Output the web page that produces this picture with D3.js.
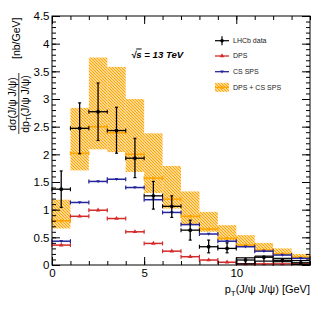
<!DOCTYPE html>
<html><head><meta charset="utf-8">
<script src="https://cdn.jsdelivr.net/npm/d3@7"></script>
<style>
html,body{margin:0;padding:0;background:#fff;}
svg{display:block;font-family:"Liberation Sans",Arial,Helvetica,sans-serif;}
</style></head>
<body>
<svg id="chart" width="327" height="316"></svg>
<script>
// ---- data ----
const binCenters = [0.5,1.5,2.5,3.5,4.5,5.5,6.5,7.5,8.5,9.5,10.5,11.5,12.5,13.5];
const binHalfWidth = 0.5;
const dataVal = [1.37,2.47,2.77,2.43,1.93,1.25,1.06,0.63,0.33,0.30,0.09,0.14,0.085,0.04];
const dataHi  = [1.70,2.93,3.29,2.85,2.29,1.51,1.25,0.81,0.45,0.40,0.13,0.16,0.12,0.08];
const dataLo  = [1.04,2.01,2.25,2.02,1.58,1.01,0.86,0.45,0.22,0.22,0.02,0.07,0.06,0.01];
const dpsVal  = [0.36,0.88,0.99,0.84,0.60,0.39,0.25,0.15,0.09,0.05,0.02,0.02,0.02,0.02];
const spsVal  = [0.43,1.13,1.51,1.55,1.40,1.18,0.95,0.73,0.56,0.43,0.33,0.25,0.18,0.12];
const sumVal  = [0.80,2.02,2.50,2.39,2.00,1.57,1.19,0.88,0.65,0.48,0.36,0.27,0.20,0.14];
const sumHi   = [1.18,2.84,3.75,3.58,3.00,2.38,1.79,1.33,0.96,0.72,0.54,0.40,0.30,0.20];
const sumLo   = [0.66,1.71,2.09,2.04,1.68,1.30,1.02,0.72,0.60,0.45,0.34,0.26,0.19,0.13];
const xMajorTicks = [0,5,10];
const yMajorTicks = [0,0.5,1,1.5,2,2.5,3,3.5,4,4.5];
const legendLabels = ["LHCb data","DPS","CS SPS","DPS + CS SPS"];

// ---- layout ----
const W=327,H=316;
const m={left:52,right:17,top:16,bottom:51};
const svg=d3.select("#chart");
const x=d3.scaleLinear().domain([0,14]).range([m.left,W-m.right]);
const y=d3.scaleLinear().domain([0,4.5]).range([H-m.bottom,m.top]);

const colRed="#d42a2a", colBlue="#25259a", colOrange="#ffa500";

// hatch pattern
const defs=svg.append("defs");
const pat=defs.append("pattern").attr("id","hatch").attr("patternUnits","userSpaceOnUse")
  .attr("width",3).attr("height",3);
pat.append("path").attr("d","M-1,-1L4,4M-1,2L1,4M2,-1L4,1")
  .attr("stroke",colOrange).attr("stroke-width",1.25);

const bins=binCenters.map((c,i)=>({c,i}));

// band
svg.append("g").selectAll("rect").data(bins).join("rect")
  .attr("x",d=>x(d.c-binHalfWidth)).attr("width",d=>x(d.c+binHalfWidth)-x(d.c-binHalfWidth))
  .attr("y",d=>y(sumHi[d.i])).attr("height",d=>y(sumLo[d.i])-y(sumHi[d.i]))
  .attr("fill","url(#hatch)");

function drawSeries(vals,color,marker,lw){
  const g=svg.append("g");
  g.selectAll("line.h").data(bins).join("line").attr("class","h")
    .attr("x1",d=>x(d.c-binHalfWidth)).attr("x2",d=>x(d.c+binHalfWidth))
    .attr("y1",d=>y(vals[d.i])).attr("y2",d=>y(vals[d.i]))
    .attr("stroke",color).attr("stroke-width",lw);
  ["l","r"].forEach(s=>{
    g.selectAll("line.c"+s).data(bins).join("line").attr("class","c"+s)
      .attr("x1",d=>x(d.c+(s==="l"?-binHalfWidth:binHalfWidth))).attr("x2",d=>x(d.c+(s==="l"?-binHalfWidth:binHalfWidth)))
      .attr("y1",d=>y(vals[d.i])-2).attr("y2",d=>y(vals[d.i])+2)
      .attr("stroke",color).attr("stroke-width",lw*0.8);
  });
  g.selectAll("path.m").data(bins).join("path").attr("class","m")
    .attr("transform",d=>`translate(${x(d.c)},${y(vals[d.i])})`)
    .attr("d",marker).attr("fill",color);
}
const triUp=d3.symbol().type(d3.symbolTriangle).size(9)();
const triDown="M-1.8,-1.3L1.8,-1.3L0,1.8Z";
const circ=d3.symbol().type(d3.symbolCircle).size(8)();

drawSeries(sumVal,colOrange,circ,1.5);
drawSeries(dpsVal,colRed,triUp,1.5);
drawSeries(spsVal,colBlue,triDown,1.5);

// data
const gd=svg.append("g");
const small=d=>(y(dataLo[d.i])-y(dataHi[d.i]))<8;
gd.selectAll("line.v").data(bins).join("line")
  .attr("x1",d=>x(d.c)).attr("x2",d=>x(d.c))
  .attr("y1",d=>y(dataHi[d.i])).attr("y2",d=>y(dataLo[d.i]))
  .attr("stroke","#000").attr("stroke-width",1.3);
// error caps: short caps; when the error is very small they span the whole bin (as in the original)
["hi","lo"].forEach(k=>{
  const arr=k==="hi"?dataHi:dataLo;
  gd.selectAll("line.cap"+k).data(bins).join("line").attr("class","cap"+k)
    .attr("x1",d=>small(d)?x(d.c-binHalfWidth):x(d.c)-1.5)
    .attr("x2",d=>small(d)?x(d.c+binHalfWidth):x(d.c)+1.5)
    .attr("y1",d=>y(arr[d.i])).attr("y2",d=>y(arr[d.i]))
    .attr("stroke","#000").attr("stroke-width",1.2);
});
gd.selectAll("line.h").data(bins).join("line").attr("class","h")
  .attr("x1",d=>x(d.c-binHalfWidth)).attr("x2",d=>x(d.c+binHalfWidth))
  .attr("y1",d=>y(dataVal[d.i])).attr("y2",d=>y(dataVal[d.i]))
  .attr("stroke","#000").attr("stroke-width",1.3);
["l","r"].forEach(s=>{
  gd.selectAll("line.c"+s).data(bins).join("line").attr("class","c"+s)
    .attr("x1",d=>x(d.c+(s==="l"?-binHalfWidth:binHalfWidth))).attr("x2",d=>x(d.c+(s==="l"?-binHalfWidth:binHalfWidth)))
    .attr("y1",d=>small(d)?y(dataHi[d.i]):y(dataVal[d.i])-2)
    .attr("y2",d=>small(d)?y(dataLo[d.i]):y(dataVal[d.i])+2)
    .attr("stroke","#000").attr("stroke-width",1.1);
});
gd.selectAll("circle").data(bins).join("circle")
  .attr("cx",d=>x(d.c)).attr("cy",d=>y(dataVal[d.i])).attr("r",1.9).attr("fill","#000");

// ---- axes (ticks inward, mirrored) ----
const yMinor=d3.range(0,4.5001,0.1);
const xMinor=d3.range(0,14.001,1);
function axis(gen,scale,tr,vals,size,fmt){
  const g=svg.append("g").attr("transform",tr)
    .call(gen(scale).tickValues(vals).tickSize(size).tickSizeOuter(0).tickFormat(fmt));
  g.select(".domain").remove();
  g.selectAll("line").attr("stroke","#000");
  return g;
}
const none=()=>"";
axis(d3.axisBottom,x,`translate(0,${y(0)})`,xMinor,-4,none);
axis(d3.axisTop,x,`translate(0,${y(4.5)})`,xMinor,-4,none);
axis(d3.axisTop,x,`translate(0,${y(4.5)})`,xMajorTicks,-8,none);
const gxb=axis(d3.axisBottom,x,`translate(0,${y(0)})`,xMajorTicks,-8,d=>d3.format("d")(d));
gxb.selectAll("text").attr("y",4).attr("dy","0.71em").attr("font-size",11.5).attr("fill","#000")
  .attr("font-family","Liberation Sans, Arial, sans-serif");
axis(d3.axisLeft,y,`translate(${x(0)},0)`,yMinor,-4,none);
axis(d3.axisRight,y,`translate(${x(14)},0)`,yMinor,-4,none);
axis(d3.axisRight,y,`translate(${x(14)},0)`,yMajorTicks,-8,none);
const gyl=axis(d3.axisLeft,y,`translate(${x(0)},0)`,yMajorTicks,-8,d=>d3.format("")(d));
gyl.selectAll("text").attr("x",-2.5).attr("font-size",11.5).attr("fill","#000")
  .attr("font-family","Liberation Sans, Arial, sans-serif");

// frame
svg.append("rect").attr("x",x(0)).attr("y",y(4.5)).attr("width",x(14)-x(0)).attr("height",y(0)-y(4.5))
  .attr("fill","none").attr("stroke","#000").attr("stroke-width",1);

// ---- x title ----
const xt=svg.append("text").attr("x",x(14)).attr("y",293).attr("text-anchor","end")
  .attr("font-size",11).attr("fill","#000");
xt.append("tspan").text("p");
xt.append("tspan").attr("font-size",8).attr("dy",3).text("T");
xt.append("tspan").attr("dy",-3).text("(J/ψ J/ψ) [GeV]");

// ---- y title (rotated fraction) ----
const gt=svg.append("g").attr("transform","rotate(-90)").attr("font-size",10.5).attr("fill","#000");
const fracC=-104;
gt.append("text").attr("x",fracC).attr("y",16).attr("text-anchor","middle").text("dσ(J/ψ J/ψ)");
const den=gt.append("text").attr("x",fracC).attr("y",28.5).attr("text-anchor","middle");
den.append("tspan").text("dp");
den.append("tspan").attr("font-size",7.5).attr("dy",2.5).text("T");
den.append("tspan").attr("dy",-2.5).text("(J/ψ J/ψ)");
gt.append("line").attr("x1",-134).attr("x2",-73).attr("y1",18.8).attr("y2",18.8).attr("stroke","#000").attr("stroke-width",0.8);
gt.append("text").attr("x",-59).attr("y",20).attr("text-anchor","start").text("[nb/GeV]");

// ---- energy label ----
const et=svg.append("text").attr("x",131).attr("y",57.5).attr("font-size",9.6)
  .attr("font-weight","bold").attr("font-style","italic").attr("fill","#000");
et.append("tspan").text("√");
et.append("tspan").attr("text-decoration","overline").text("s");
et.append("tspan").text(" = 13 TeV");

// ---- legend ----
const legY=[40.7,56,71.7,87.3];
const lg=svg.append("g").attr("font-size",7).attr("fill","#222");
const lx0=215,lx1=229,lxm=222;
legendLabels.forEach((t,i)=>{
  lg.append("text").attr("x",233).attr("y",legY[i]).attr("dy","0.35em").text(t);
});
// LHCb data symbol
lg.append("line").attr("x1",lx0).attr("x2",lx1).attr("y1",legY[0]).attr("y2",legY[0]).attr("stroke","#000").attr("stroke-width",1.2);
lg.append("line").attr("x1",lxm).attr("x2",lxm).attr("y1",legY[0]-4.5).attr("y2",legY[0]+4.5).attr("stroke","#000").attr("stroke-width",1.2);
lg.append("circle").attr("cx",lxm).attr("cy",legY[0]).attr("r",1.8).attr("fill","#000");
// DPS
lg.append("line").attr("x1",lx0).attr("x2",lx1).attr("y1",legY[1]).attr("y2",legY[1]).attr("stroke",colRed).attr("stroke-width",1.3);
lg.append("path").attr("transform",`translate(${lxm},${legY[1]})`).attr("d",triUp).attr("fill",colRed);
// SPS
lg.append("line").attr("x1",lx0).attr("x2",lx1).attr("y1",legY[2]).attr("y2",legY[2]).attr("stroke",colBlue).attr("stroke-width",1.3);
lg.append("path").attr("transform",`translate(${lxm},${legY[2]})`).attr("d",triDown).attr("fill",colBlue);
// sum
lg.append("rect").attr("x",lx0).attr("y",legY[3]-4.5).attr("width",lx1-lx0).attr("height",9).attr("fill","url(#hatch)");
lg.append("line").attr("x1",lx0).attr("x2",lx1).attr("y1",legY[3]).attr("y2",legY[3]).attr("stroke",colOrange).attr("stroke-width",1.3);
lg.append("path").attr("transform",`translate(${lxm},${legY[3]})`).attr("d",circ).attr("fill",colOrange);
</script>
</body></html>
